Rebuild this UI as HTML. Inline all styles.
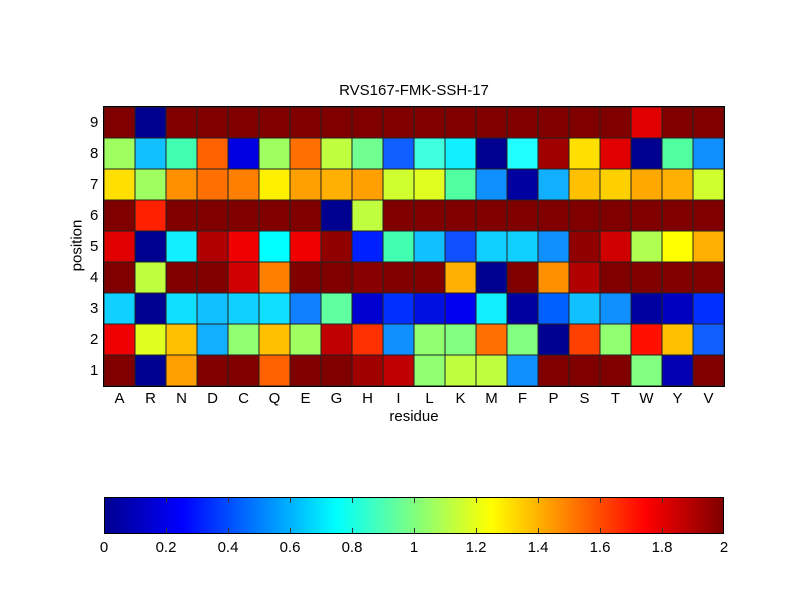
<!DOCTYPE html>
<html><head><style>
body{margin:0;width:800px;height:600px;background:#fff;position:relative;font-family:"Liberation Sans",sans-serif;font-size:15px;color:#000;overflow:hidden}
#g{position:absolute;left:104px;top:107px;width:620px;height:279px;display:grid;grid-template-columns:repeat(20,31px);grid-template-rows:repeat(9,31px);outline:1px solid #000}
#g i{display:block;box-shadow:inset 0 0 0 0.5px #222}
.t{position:absolute;white-space:nowrap}
#cb{position:absolute;left:104px;top:497px;width:620px;height:37px;border:1px solid #000;box-sizing:border-box;background:linear-gradient(to right,#00008f 0%,#0000ff 12.5%,#00ffff 37.5%,#ffff00 62.5%,#ff0000 87.5%,#800000 100%)}
.tk{position:absolute;width:1px;height:5px;background:#333}
</style></head><body>
<div class="t" style="left:0;width:828px;text-align:center;top:82px">RVS167-FMK-SSH-17</div>
<div id="g">
<i style="background:#800000"></i><i style="background:#00008f"></i><i style="background:#800000"></i><i style="background:#800000"></i><i style="background:#800000"></i><i style="background:#800000"></i><i style="background:#800000"></i><i style="background:#800000"></i><i style="background:#800000"></i><i style="background:#800000"></i><i style="background:#800000"></i><i style="background:#800000"></i><i style="background:#800000"></i><i style="background:#800000"></i><i style="background:#800000"></i><i style="background:#800000"></i><i style="background:#800000"></i><i style="background:#e00000"></i><i style="background:#800000"></i><i style="background:#800000"></i>
<i style="background:#a0ff60"></i><i style="background:#10c0ff"></i><i style="background:#40ffb0"></i><i style="background:#ff6000"></i><i style="background:#0000e0"></i><i style="background:#a0ff60"></i><i style="background:#ff7000"></i><i style="background:#c0ff40"></i><i style="background:#70ff90"></i><i style="background:#1060ff"></i><i style="background:#40ffe0"></i><i style="background:#10f0ff"></i><i style="background:#000090"></i><i style="background:#20ffff"></i><i style="background:#a00000"></i><i style="background:#ffe000"></i><i style="background:#e00000"></i><i style="background:#000090"></i><i style="background:#50ffa0"></i><i style="background:#1090ff"></i>
<i style="background:#ffe000"></i><i style="background:#a0ff60"></i><i style="background:#ff9000"></i><i style="background:#ff7000"></i><i style="background:#ff8000"></i><i style="background:#fff000"></i><i style="background:#ffa000"></i><i style="background:#ffb000"></i><i style="background:#ffa000"></i><i style="background:#d0ff30"></i><i style="background:#e0ff20"></i><i style="background:#50ffa0"></i><i style="background:#1090ff"></i><i style="background:#0000a0"></i><i style="background:#10b0ff"></i><i style="background:#ffc000"></i><i style="background:#ffd000"></i><i style="background:#ffa800"></i><i style="background:#ffb000"></i><i style="background:#d0ff30"></i>
<i style="background:#800000"></i><i style="background:#ff2000"></i><i style="background:#800000"></i><i style="background:#800000"></i><i style="background:#800000"></i><i style="background:#800000"></i><i style="background:#800000"></i><i style="background:#000090"></i><i style="background:#c0ff40"></i><i style="background:#800000"></i><i style="background:#800000"></i><i style="background:#800000"></i><i style="background:#800000"></i><i style="background:#800000"></i><i style="background:#800000"></i><i style="background:#800000"></i><i style="background:#800000"></i><i style="background:#800000"></i><i style="background:#800000"></i><i style="background:#800000"></i>
<i style="background:#e00000"></i><i style="background:#000090"></i><i style="background:#10f0ff"></i><i style="background:#b00000"></i><i style="background:#f00000"></i><i style="background:#00ffff"></i><i style="background:#f00000"></i><i style="background:#900000"></i><i style="background:#0020ff"></i><i style="background:#40ffb0"></i><i style="background:#10c0ff"></i><i style="background:#1050ff"></i><i style="background:#10d0ff"></i><i style="background:#10d0ff"></i><i style="background:#1090ff"></i><i style="background:#900000"></i><i style="background:#d00000"></i><i style="background:#b0ff50"></i><i style="background:#ffff00"></i><i style="background:#ffb000"></i>
<i style="background:#800000"></i><i style="background:#c0ff40"></i><i style="background:#800000"></i><i style="background:#800000"></i><i style="background:#d00000"></i><i style="background:#ff8000"></i><i style="background:#800000"></i><i style="background:#800000"></i><i style="background:#880000"></i><i style="background:#800000"></i><i style="background:#800000"></i><i style="background:#ffb000"></i><i style="background:#000090"></i><i style="background:#800000"></i><i style="background:#ff9000"></i><i style="background:#b00000"></i><i style="background:#800000"></i><i style="background:#800000"></i><i style="background:#800000"></i><i style="background:#800000"></i>
<i style="background:#10d0ff"></i><i style="background:#000090"></i><i style="background:#10e0ff"></i><i style="background:#10c0ff"></i><i style="background:#10d0ff"></i><i style="background:#10e0ff"></i><i style="background:#1080ff"></i><i style="background:#60ffa0"></i><i style="background:#0000d0"></i><i style="background:#0030ff"></i><i style="background:#0010e0"></i><i style="background:#0000f0"></i><i style="background:#10f0ff"></i><i style="background:#0000a0"></i><i style="background:#0060ff"></i><i style="background:#10c0ff"></i><i style="background:#1090ff"></i><i style="background:#0000a0"></i><i style="background:#0000c0"></i><i style="background:#0030ff"></i>
<i style="background:#f00000"></i><i style="background:#e0ff20"></i><i style="background:#ffc000"></i><i style="background:#10b0ff"></i><i style="background:#90ff70"></i><i style="background:#ffc000"></i><i style="background:#a0ff60"></i><i style="background:#c00000"></i><i style="background:#ff3000"></i><i style="background:#1090ff"></i><i style="background:#90ff70"></i><i style="background:#80ff80"></i><i style="background:#ff7000"></i><i style="background:#80ff80"></i><i style="background:#000090"></i><i style="background:#ff4000"></i><i style="background:#90ff70"></i><i style="background:#ff1000"></i><i style="background:#ffc000"></i><i style="background:#1060ff"></i>
<i style="background:#800000"></i><i style="background:#000090"></i><i style="background:#ffa000"></i><i style="background:#800000"></i><i style="background:#800000"></i><i style="background:#ff6000"></i><i style="background:#800000"></i><i style="background:#800000"></i><i style="background:#a00000"></i><i style="background:#c00000"></i><i style="background:#90ff70"></i><i style="background:#c0ff40"></i><i style="background:#c0ff40"></i><i style="background:#1090ff"></i><i style="background:#800000"></i><i style="background:#800000"></i><i style="background:#800000"></i><i style="background:#80ff80"></i><i style="background:#0000b0"></i><i style="background:#800000"></i>
</div>
<div class="t" style="left:90px;top:114px">9</div>
<div class="t" style="left:90px;top:145px">8</div>
<div class="t" style="left:90px;top:176px">7</div>
<div class="t" style="left:90px;top:207px">6</div>
<div class="t" style="left:90px;top:238px">5</div>
<div class="t" style="left:90px;top:269px">4</div>
<div class="t" style="left:90px;top:300px">3</div>
<div class="t" style="left:90px;top:331px">2</div>
<div class="t" style="left:90px;top:362px">1</div>
<div class="t" style="left:51px;top:237px;transform:rotate(-90deg);transform-origin:center">position</div>
<div style="position:absolute;left:104px;top:390px;width:620px;display:flex">
<span style="width:31px;text-align:center">A</span><span style="width:31px;text-align:center">R</span><span style="width:31px;text-align:center">N</span><span style="width:31px;text-align:center">D</span><span style="width:31px;text-align:center">C</span><span style="width:31px;text-align:center">Q</span><span style="width:31px;text-align:center">E</span><span style="width:31px;text-align:center">G</span><span style="width:31px;text-align:center">H</span><span style="width:31px;text-align:center">I</span><span style="width:31px;text-align:center">L</span><span style="width:31px;text-align:center">K</span><span style="width:31px;text-align:center">M</span><span style="width:31px;text-align:center">F</span><span style="width:31px;text-align:center">P</span><span style="width:31px;text-align:center">S</span><span style="width:31px;text-align:center">T</span><span style="width:31px;text-align:center">W</span><span style="width:31px;text-align:center">Y</span><span style="width:31px;text-align:center">V</span>
</div>
<div class="t" style="left:0;width:828px;text-align:center;top:408px">residue</div>
<div id="cb"></div>
<div class="tk" style="left:166px;top:498px"></div><div class="tk" style="left:228px;top:498px"></div><div class="tk" style="left:290px;top:498px"></div><div class="tk" style="left:352px;top:498px"></div><div class="tk" style="left:414px;top:498px"></div><div class="tk" style="left:476px;top:498px"></div><div class="tk" style="left:538px;top:498px"></div><div class="tk" style="left:600px;top:498px"></div><div class="tk" style="left:662px;top:498px"></div>
<div class="tk" style="left:166px;top:528px"></div><div class="tk" style="left:228px;top:528px"></div><div class="tk" style="left:290px;top:528px"></div><div class="tk" style="left:352px;top:528px"></div><div class="tk" style="left:414px;top:528px"></div><div class="tk" style="left:476px;top:528px"></div><div class="tk" style="left:538px;top:528px"></div><div class="tk" style="left:600px;top:528px"></div><div class="tk" style="left:662px;top:528px"></div>
<div class="t" style="left:84px;width:40px;text-align:center;top:539px">0</div>
<div class="t" style="left:146px;width:40px;text-align:center;top:539px">0.2</div>
<div class="t" style="left:208px;width:40px;text-align:center;top:539px">0.4</div>
<div class="t" style="left:270px;width:40px;text-align:center;top:539px">0.6</div>
<div class="t" style="left:332px;width:40px;text-align:center;top:539px">0.8</div>
<div class="t" style="left:394px;width:40px;text-align:center;top:539px">1</div>
<div class="t" style="left:456px;width:40px;text-align:center;top:539px">1.2</div>
<div class="t" style="left:518px;width:40px;text-align:center;top:539px">1.4</div>
<div class="t" style="left:580px;width:40px;text-align:center;top:539px">1.6</div>
<div class="t" style="left:642px;width:40px;text-align:center;top:539px">1.8</div>
<div class="t" style="left:704px;width:40px;text-align:center;top:539px">2</div>
</body></html>
